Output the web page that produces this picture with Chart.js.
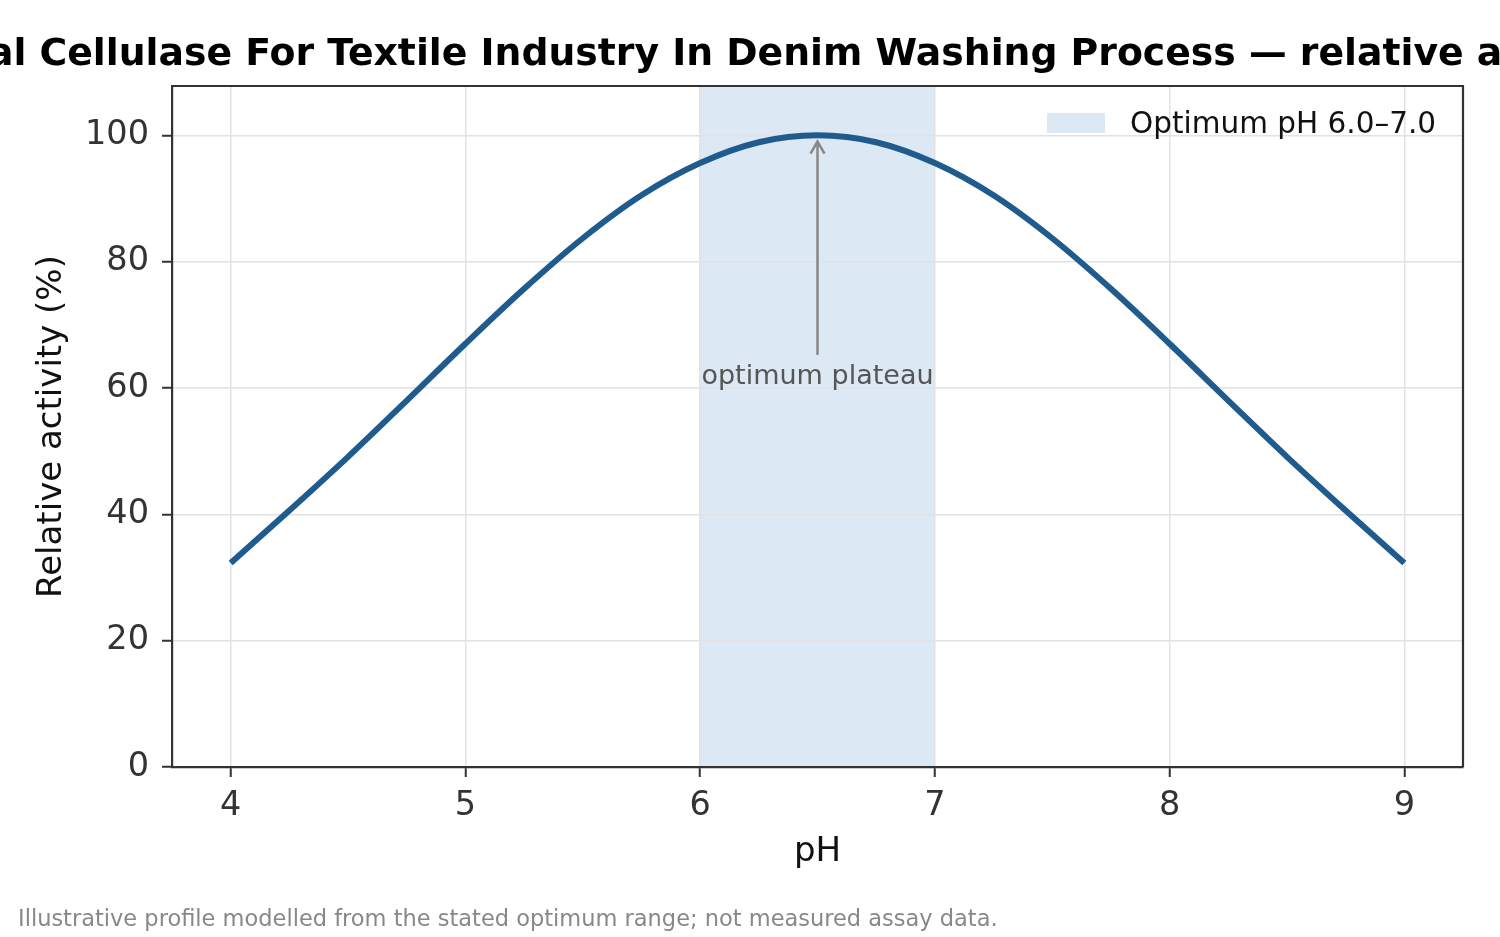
<!DOCTYPE html>
<html lang="en">
<head>
    <meta charset="UTF-8">
    <title>Neutral Cellulase - relative activity vs pH</title>
    <script src="https://cdn.jsdelivr.net/npm/chart.js"></script>
    <style>
        html, body { margin: 0; padding: 0; background: #fff; }
        canvas { display: block; }
    </style>
</head>
<body>
    <canvas id="phChart" width="1500" height="937"></canvas>

    <script>
        // data
        const phValues = [4.0, 4.25, 4.5, 4.75, 5.0, 5.25, 5.5, 5.75, 6.0, 6.25, 6.5,
                          6.75, 7.0, 7.25, 7.5, 7.75, 8.0, 8.25, 8.5, 8.75, 9.0];
        const activity = [32.3, 40.6, 49.1, 58.0, 67.0, 75.7, 83.7, 90.5, 95.6, 98.9, 100,
                          98.9, 95.6, 90.5, 83.7, 75.7, 67.0, 58.0, 49.1, 40.6, 32.3];
        const xTicks = [4, 5, 6, 7, 8, 9];
        const yTicks = [0, 20, 40, 60, 80, 100];
        const optimumBand = [6.0, 7.0];
        const arrowFrom = [6.5, 65.2];
        const arrowTo = [6.5, 99.0];
        const labelAt = [6.5, 60.6];

        const titleText = "Neutral Cellulase For Textile Industry In Denim Washing Process \u2014 relative activity vs pH";
        const legendText = "Optimum pH 6.0\u20137.0";
        const noteText = "Illustrative profile modelled from the stated optimum range; not measured assay data.";

        const FONT = "'DejaVu Sans', sans-serif";
        const bandColor = "rgb(220, 232, 243)";

        // fundo + banda (antes da grade, pra grade ficar por cima)
        const bandPlugin = {
            id: "band",
            beforeDraw(chart) {
                const { ctx, chartArea, scales } = chart;
                ctx.save();
                ctx.fillStyle = "#fff";
                ctx.fillRect(0, 0, chart.width, chart.height);
                const x0 = scales.x.getPixelForValue(optimumBand[0]);
                const x1 = scales.x.getPixelForValue(optimumBand[1]);
                ctx.fillStyle = bandColor;
                ctx.fillRect(x0, chartArea.top, x1 - x0, chartArea.bottom - chartArea.top);
                ctx.restore();
            }
        };

        const extrasPlugin = {
            id: "extras",
            afterDraw(chart) {
                const { ctx, chartArea, scales } = chart;
                const cx = (chartArea.left + chartArea.right) / 2;
                ctx.save();

                // top and right spines
                ctx.strokeStyle = "#333";
                ctx.lineWidth = 2.2;
                ctx.beginPath();
                ctx.moveTo(chartArea.left, chartArea.top);
                ctx.lineTo(chartArea.right, chartArea.top);
                ctx.lineTo(chartArea.right, chartArea.bottom);
                ctx.stroke();

                // arrow
                const ax = scales.x.getPixelForValue(arrowFrom[0]);
                const ay0 = scales.y.getPixelForValue(arrowFrom[1]);
                const ay1 = scales.y.getPixelForValue(arrowTo[1]);
                ctx.strokeStyle = "#888";
                ctx.lineWidth = 2.5;
                ctx.beginPath();
                ctx.moveTo(ax, ay0);
                ctx.lineTo(ax, ay1);
                ctx.moveTo(ax - 7, ay1 + 12);
                ctx.lineTo(ax, ay1);
                ctx.lineTo(ax + 7, ay1 + 12);
                ctx.stroke();

                // annotation text
                ctx.fillStyle = "#555";
                ctx.font = "27px " + FONT;
                ctx.textAlign = "center";
                ctx.textBaseline = "alphabetic";
                ctx.fillText("optimum plateau", scales.x.getPixelForValue(labelAt[0]), scales.y.getPixelForValue(labelAt[1]));

                // legend
                ctx.fillStyle = bandColor;
                ctx.fillRect(1047, 113, 58, 20);
                ctx.fillStyle = "#111";
                ctx.font = "29.5px " + FONT;
                ctx.textAlign = "left";
                ctx.fillText(legendText, 1130, 133);

                // title (centered on the axes, overflows the canvas)
                ctx.fillStyle = "#000";
                ctx.font = "bold 37.75px " + FONT;
                ctx.textAlign = "center";
                ctx.fillText(titleText, cx, 65);

                // axis titles
                ctx.fillStyle = "#111";
                ctx.font = "34px " + FONT;
                ctx.textBaseline = "middle";
                ctx.fillText("pH", cx, 852);
                ctx.save();
                ctx.translate(52, (chartArea.top + chartArea.bottom) / 2);
                ctx.rotate(-Math.PI / 2);
                ctx.fillText("Relative activity (%)", 0, 0);
                ctx.restore();

                // footnote
                ctx.fillStyle = "#888";
                ctx.font = "22.5px " + FONT;
                ctx.textAlign = "left";
                ctx.textBaseline = "alphabetic";
                ctx.fillText(noteText, 18, 926);

                ctx.restore();
            }
        };

        const ctx = document.getElementById("phChart").getContext("2d");

        new Chart(ctx, {
            type: "line",
            data: {
                labels: phValues,
                datasets: [{
                    label: "Relative activity",
                    data: phValues.map((x, i) => ({ x: x, y: activity[i] })),
                    borderColor: "#1f5b8c",
                    borderWidth: 6,
                    pointRadius: 0,
                    fill: false,
                    cubicInterpolationMode: "monotone"
                }]
            },
            options: {
                responsive: false,
                animation: false,
                layout: { padding: { left: 0, right: 37, top: 86, bottom: 0 } },
                plugins: {
                    legend: { display: false },
                    title: { display: false },
                    tooltip: { enabled: false }
                },
                scales: {
                    x: {
                        type: "linear",
                        min: 3.75,
                        max: 9.25,
                        afterBuildTicks: (scale) => { scale.ticks = xTicks.map(v => ({ value: v })); },
                        afterFit: (scale) => { scale.height = 170; },
                        grid: {
                            color: "#e2e2e2",
                            lineWidth: 1.5,
                            tickColor: "#333",
                            tickLength: 10,
                            tickWidth: 2
                        },
                        border: { color: "#333", width: 2.2 },
                        ticks: {
                            color: "#333",
                            font: { family: FONT, size: 33.5 },
                            padding: 9,
                            maxRotation: 0
                        }
                    },
                    y: {
                        min: 0,
                        max: 107.8,
                        afterBuildTicks: (scale) => { scale.ticks = yTicks.map(v => ({ value: v })); },
                        afterFit: (scale) => { scale.width = 172; },
                        grid: {
                            color: "#e2e2e2",
                            lineWidth: 1.5,
                            tickColor: "#333",
                            tickLength: 10,
                            tickWidth: 2
                        },
                        border: { color: "#333", width: 2.2 },
                        ticks: {
                            color: "#333",
                            font: { family: FONT, size: 33.5 },
                            padding: 13
                        }
                    }
                }
            },
            plugins: [bandPlugin, extrasPlugin]
        });
    </script>
</body>
</html>
